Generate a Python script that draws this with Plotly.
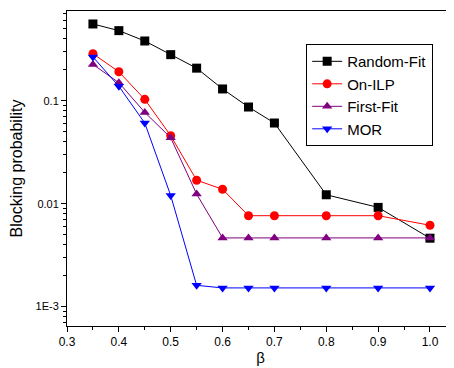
import plotly.graph_objects as go

beta = [0.35, 0.4, 0.45, 0.5, 0.55, 0.6, 0.65, 0.7, 0.8, 0.9, 1.0]
random_fit = [0.556, 0.479, 0.38, 0.28, 0.207, 0.13, 0.0868, 0.0607, 0.0122, 0.0092, 0.00462]
on_ilp = [0.286, 0.191, 0.103, 0.0457, 0.0169, 0.0138, 0.00764, 0.00764, 0.00764, 0.00764, 0.00617]
first_fit = [0.225, 0.1496, 0.077, 0.0437, 0.0124, 0.00465, 0.00465, 0.00465, 0.00465, 0.00465, 0.00465]
mor = [0.266, 0.138, 0.0607, 0.012, 0.00161, 0.00152, 0.00152, 0.00152, 0.00152, 0.00152, 0.00152]

x_ticks = [0.3, 0.4, 0.5, 0.6, 0.7, 0.8, 0.9, 1.0]
x_ticktext = ["0.3", "0.4", "0.5", "0.6", "0.7", "0.8", "0.9", "1.0"]
y_ticks = [0.001, 0.01, 0.1]
y_ticktext = ["1E-3", "0.01", "0.1"]

series = [
    ("Random-Fit", random_fit, "black", "square"),
    ("On-ILP", on_ilp, "red", "circle"),
    ("First-Fit", first_fit, "#800080", "triangle-up"),
    ("MOR", mor, "blue", "triangle-down"),
]

fig = go.Figure()
for name, vals, color, sym in series:
    fig.add_trace(go.Scatter(
        x=beta, y=vals, name=name, mode="lines+markers",
        line=dict(color=color, width=1),
        marker=dict(symbol=sym, size=9, color=color),
    ))

y_minor = []
for d in [1e-4, 1e-3, 1e-2, 1e-1]:
    for k in range(2, 10):
        y_minor.append(k * d)
x_minor = [0.35, 0.45, 0.55, 0.65, 0.75, 0.85, 0.95]

# page body has an 8px default margin; figure sized to fit the 454x368 window
fig.update_layout(
    width=446, height=360,
    margin=dict(l=59, r=0, t=3, b=42),
    paper_bgcolor="white", plot_bgcolor="white",
    font=dict(family="Liberation Sans, Arial, sans-serif", size=12, color="black"),
    showlegend=True,
    legend=dict(
        x=0.618, y=0.895, xanchor="left", yanchor="top",
        bordercolor="black", borderwidth=1, bgcolor="white",
        font=dict(size=15), tracegroupgap=0, itemwidth=30,
    ),
    xaxis=dict(
        range=[0.3, 1.0463],
        automargin=False,
        tickvals=x_ticks, ticktext=x_ticktext,
        ticks="outside", ticklen=5, tickwidth=1, tickcolor="black",
        showline=True, linecolor="black", linewidth=1, mirror=True,
        showgrid=False, zeroline=False,
        minor=dict(tickvals=x_minor, ticks="outside", ticklen=3, tickcolor="black", showgrid=False),
        title=dict(text="β", font=dict(size=15), standoff=4),
        tickfont=dict(size=12),
    ),
    yaxis=dict(
        type="log",
        automargin=False,
        range=[-3.188, -0.129],
        tickvals=y_ticks, ticktext=y_ticktext,
        ticks="outside", ticklen=5, tickwidth=1, tickcolor="black",
        showline=True, linecolor="black", linewidth=1,
        showgrid=False, zeroline=False,
        minor=dict(tickvals=y_minor, ticks="outside", ticklen=3, tickcolor="black", showgrid=False),
        title=dict(text="Blocking probability", font=dict(size=16), standoff=8),
        tickfont=dict(size=11),
    ),
)

fig.write_html("out.html")
